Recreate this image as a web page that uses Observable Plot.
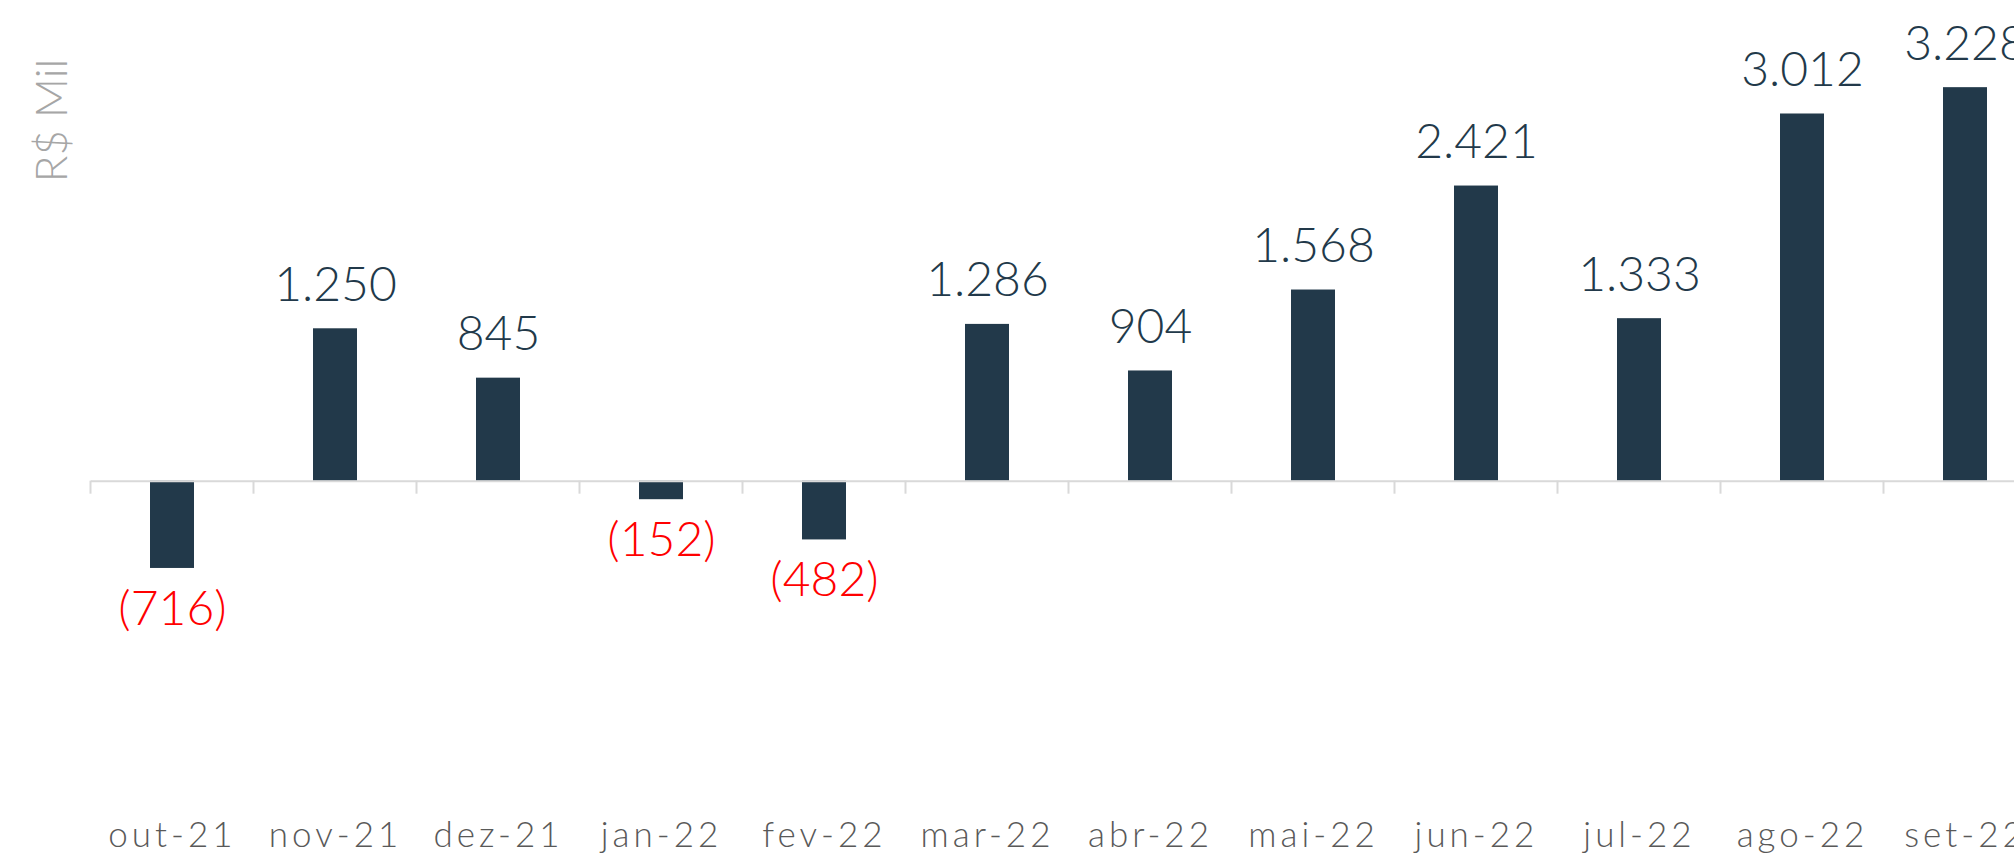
<!DOCTYPE html>
<html>
<head>
<meta charset="utf-8">
<script src="https://cdn.jsdelivr.net/npm/d3@7"></script>
<script src="https://cdn.jsdelivr.net/npm/@observablehq/plot@0.6"></script>
<style>
html, body { margin: 0; padding: 0; background: #fff; overflow: hidden; width: 2014px; height: 861px; }
#chart { width: 2014px; height: 861px; overflow: hidden; }
#chart svg { display: block; max-width: none !important; }
</style>
</head>
<body>
<div id="chart"></div>
<script>
// Data
const months = ["out-21","nov-21","dez-21","jan-22","fev-22","mar-22","abr-22","mai-22","jun-22","jul-22","ago-22","set-22"];
const values = [-716, 1250, 845, -152, -482, 1286, 904, 1568, 2421, 1333, 3012, 3228];
const yLabel = "R$ Mil";

const data = months.map((m, i) => ({month: m, value: values[i]}));

const fmt = d3.formatLocale({decimal: ",", thousands: ".", grouping: [3], currency: ["R$", ""]}).format(",d");
const label = v => v < 0 ? `(${fmt(-v)})` : fmt(v);

const BAR = "#22394a";
const GRID = "#d9d9d9";
const FONT = "Lato, Roboto, sans-serif";

function boundaryTicks(index, scales) {
  const x = scales.x;
  const sx = scales.scales && scales.scales.x;
  const bw = typeof x.bandwidth === "function" ? x.bandwidth() : sx.bandwidth;
  const step = typeof x.step === "function" ? x.step() : sx.step;
  const y0 = scales.y(0);
  const gap = (step - bw) / 2;
  const bounds = months.map(m => x(m) - gap);
  bounds.push(x(months[months.length - 1]) + bw + gap);
  const g = d3.create("svg:g").attr("aria-label", "category boundaries");
  g.selectAll("line").data(bounds).join("line")
    .attr("x1", d => d).attr("x2", d => d)
    .attr("y1", y0).attr("y2", y0 + 13)
    .attr("stroke", GRID).attr("stroke-width", 2);
  return g.node();
}

const chart = Plot.plot({
  width: 2047,
  height: 861,
  marginLeft: 90.7,
  marginRight: 0,
  marginTop: 0,
  marginBottom: 39,
  style: {fontFamily: FONT, background: "#fff", overflow: "visible", maxWidth: "none"},
  x: {domain: months, paddingInner: 0.73, paddingOuter: 0.365, axis: null},
  y: {domain: [-2800, 3943], axis: null},
  marks: [
    Plot.barY(data, {x: "month", y: "value", fill: BAR}),
    Plot.ruleY([0], {stroke: GRID, strokeWidth: 2}),
    boundaryTicks,
    Plot.text(data.filter(d => d.value >= 0), {
      x: "month", y: "value", text: d => label(d.value),
      dy: -28, lineAnchor: "bottom", fill: BAR, fontSize: 48, fontWeight: 300,
      ariaLabel: "value-label"
    }),
    Plot.text(data.filter(d => d.value < 0), {
      x: "month", y: "value", text: d => label(d.value),
      dy: 22, lineAnchor: "top", fill: "#ff0000", fontSize: 48, fontWeight: 300,
      ariaLabel: "value-label"
    }),
    Plot.axisX({anchor: "bottom", tickSize: 0, tickPadding: 0, fontSize: 35, color: "#595959", label: null, fontWeight: 300}),
    Plot.text([yLabel], {
      frameAnchor: "top-left", text: d => d, rotate: -90,
      dx: -38, dy: 120, fontSize: 44, fill: "#a6a6a6", fontWeight: 300,
      textAnchor: "middle", lineAnchor: "middle", ariaLabel: "y-label"
    })
  ]
});

document.getElementById("chart").appendChild(chart);
d3.select(chart).selectAll("g[aria-label='x-axis tick label'] text").style("letter-spacing", "4px");
</script>
</body>
</html>
